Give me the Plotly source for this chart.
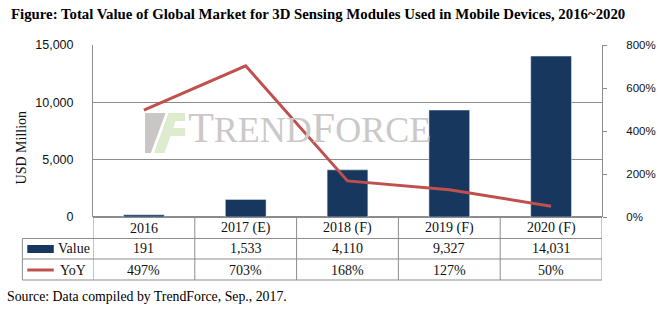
import plotly.graph_objects as go

categories = ["2016", "2017 (E)", "2018 (F)", "2019 (F)", "2020 (F)"]
values = [191, 1533, 4110, 9327, 14031]
yoy = [497, 703, 168, 127, 50]
value_labels = ["191", "1,533", "4,110", "9,327", "14,031"]
yoy_labels = ["497%", "703%", "168%", "127%", "50%"]
left_ticks = [0, 5000, 10000, 15000]
right_ticks = [0, 200, 400, 600, 800]

W, H = 668, 322
L, R, T, B = 93, 56, 45, 105
PW, PH = W - L - R, H - T - B
ZERO_PY = T + PH


def px(xp):
    return (xp - L) / PW


def py(yp):
    return (ZERO_PY - yp) / PH


NAVY = "#17375E"
RED = "#C0504D"
GRID = "#8C8C8C"
SERIF = "Liberation Serif"
SANS = "Liberation Sans"

fig = go.Figure()

# watermark text (drawn first so the data sit on top)
fig.add_trace(go.Scatter(
    x=[190], y=[133], mode="text", xaxis="x2", yaxis="y3",
    text=["<span style='font-size:42px'>T</span><span style='font-size:36px'>REND</span>"
          "<span style='font-size:42px'>F</span><span style='font-size:36px'>ORCE</span>"],
    textposition="middle right",
    textfont=dict(family=SERIF, color="#CBC8C8", size=36),
    hoverinfo="skip", showlegend=False,
))

fig.add_trace(go.Bar(
    x=categories, y=values, marker_color=NAVY, width=0.4,
    name="Value", showlegend=False,
))
fig.add_trace(go.Scatter(
    x=categories, y=yoy, yaxis="y2", mode="lines",
    line=dict(color=RED, width=3), name="YoY", showlegend=False,
))

shapes = []


def path(pts):
    return "M " + " L ".join(f"{px(a):.4f},{py(b):.4f}" for a, b in pts) + " Z"


# logo icon (watermark)
shapes.append(dict(type="path", xref="paper", yref="paper", layer="below",
                   path=path([(146, 113), (167, 113), (152, 153), (146, 153)]),
                   fillcolor="#C9C6C6", line=dict(width=0)))
shapes.append(dict(type="path", xref="paper", yref="paper", layer="below",
                   path=path([(170, 113), (187, 113), (187, 121), (177, 121), (175, 128),
                              (187, 128), (187, 136), (172, 136), (166, 153), (155, 153)]),
                   fillcolor="#DDEBCF", line=dict(width=0)))

# table lines
lc = dict(color=GRID, width=1)
for yp in [238.5, 259, 280]:
    shapes.append(dict(type="line", xref="paper", yref="paper",
                       x0=px(21), x1=1, y0=py(yp), y1=py(yp), line=lc))
for i in range(len(categories) + 1):
    shapes.append(dict(type="line", xref="x", yref="paper",
                       x0=i - 0.5, x1=i - 0.5, y0=0, y1=py(280), line=lc))
shapes.append(dict(type="line", xref="paper", yref="paper",
                   x0=px(21), x1=px(21), y0=py(238.5), y1=py(280), line=lc))
# legend keys in table
shapes.append(dict(type="rect", xref="paper", yref="paper",
                   x0=px(26), x1=px(53), y0=py(253), y1=py(245),
                   fillcolor=NAVY, line=dict(width=0)))
shapes.append(dict(type="line", xref="paper", yref="paper",
                   x0=px(26), x1=px(53), y0=py(270), y1=py(270),
                   line=dict(color=RED, width=3)))

ann = []
tf = dict(family=SERIF, size=14, color="#111111")
for i, c in enumerate(categories):
    for yp, txt in [(228, c), (249, value_labels[i]), (270, yoy_labels[i])]:
        ann.append(dict(x=i, y=py(yp), xref="x", yref="paper", text=txt, showarrow=False,
                        xanchor="center", yanchor="middle", font=tf))
ann.append(dict(x=px(55), y=py(249), xref="paper", yref="paper", text="Value", xanchor="left",
                yanchor="middle", showarrow=False, font=tf))
ann.append(dict(x=px(57), y=py(270), xref="paper", yref="paper", text="YoY", xanchor="left",
                yanchor="middle", showarrow=False, font=tf))
ann.append(dict(x=px(20), y=py(147), xref="paper", yref="paper", text="USD Million", textangle=-90,
                xanchor="center", yanchor="middle",
                showarrow=False, font=dict(family=SERIF, size=14, color="#111111")))
ann.append(dict(x=px(7), y=py(14), xref="paper", yref="paper", xanchor="left", yanchor="middle",
                text="<b>Figure: Total Value of Global Market for 3D Sensing Modules Used in Mobile Devices, 2016~2020</b>",
                showarrow=False, font=dict(family=SERIF, size=14.8, color="#000000")))
ann.append(dict(x=px(3), y=py(296), xref="paper", yref="paper", xanchor="left", yanchor="middle",
                text="Source: Data compiled by TrendForce, Sep., 2017.",
                showarrow=False, font=dict(family=SERIF, size=13.8, color="#000000")))

fig.update_layout(
    width=W, height=H,
    margin=dict(l=L, r=R, t=T, b=B, pad=0),
    paper_bgcolor="white", plot_bgcolor="white",
    bargap=0.6,
    xaxis=dict(type="category", range=[-0.5, 4.5], showticklabels=False, ticks="",
               showgrid=False, showline=False, zeroline=False, fixedrange=True),
    yaxis=dict(range=[0, 15000], tickvals=left_ticks, ticktext=[f"{v:,}" for v in left_ticks], ticks="",
               showgrid=True, gridcolor=GRID, gridwidth=1, zeroline=True, zerolinecolor=GRID,
               showline=True, linecolor=GRID, linewidth=1, ticklabelstandoff=16,
               tickfont=dict(family=SANS, size=12.5, color="#111111")),
    yaxis2=dict(range=[0, 800], tickvals=right_ticks, ticktext=[f"{v}%" for v in right_ticks],
                overlaying="y", side="right",
                showgrid=False, zeroline=False, showline=True, linecolor=GRID, linewidth=1,
                ticks="outside", ticklen=4, tickcolor=GRID, ticklabelstandoff=17,
                tickfont=dict(family=SANS, size=11.5, color="#111111")),
    xaxis2=dict(range=[L, W - R], overlaying="x", visible=False, anchor="y3"),
    yaxis3=dict(range=[ZERO_PY, T], overlaying="y", visible=False, anchor="x2"),
    shapes=shapes, annotations=ann,
)

fig.write_html("out.html")
